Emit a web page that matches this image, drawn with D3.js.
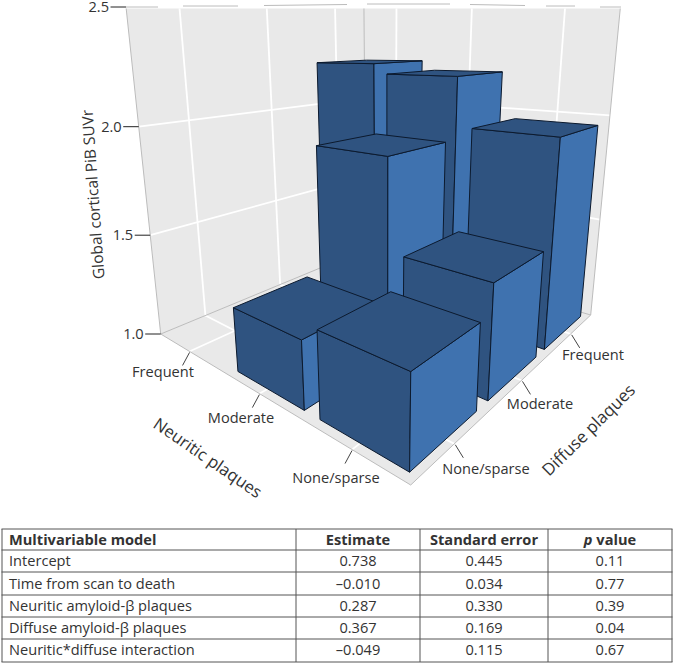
<!DOCTYPE html>
<html><head><meta charset="utf-8">
<script src="https://cdn.jsdelivr.net/npm/d3@7/dist/d3.min.js"></script>
<style>
html,body{margin:0;padding:0;background:#fff}
svg{display:block}
text{font-family:"Open Sans",sans-serif;fill:#333}
</style></head><body>
<svg id="c" width="673" height="664"></svg>
<script>
// ---- data ----
const neuriticLevels = ["None/sparse","Moderate","Frequent"];
const diffuseLevels  = ["None/sparse","Moderate","Frequent"];
const barNeuritic = ["Frequent","Moderate","Moderate","None/sparse","Moderate","None/sparse","None/sparse"];
const barDiffuse  = ["Frequent","Frequent","Moderate","Frequent","None/sparse","Moderate","None/sparse"];
const barSUVr     = [2.24,2.19,1.90,1.96,1.295,1.49,1.365];
const zTicks = [1.0,1.5,2.0,2.5];
const zTitle = "Global cortical PiB SUVr";
const xTitle = "Neuritic plaques";
const yTitle = "Diffuse plaques";
const tableHeader = ["Multivariable model","Estimate","Standard error","p value"];
const tableTerms = ["Intercept","Time from scan to death","Neuritic amyloid-β plaques","Diffuse amyloid-β plaques","Neuritic*diffuse interaction"];
const tableEstimate = ["0.738","–0.010","0.287","0.367","–0.049"];
const tableSE = ["0.445","0.034","0.330","0.169","0.115"];
const tableP = ["0.11","0.77","0.39","0.04","0.67"];

// ---- scales: data -> unit cube ----
const uBand = d3.scaleBand().domain(neuriticLevels).range([0,1]).paddingInner(0.17).paddingOuter(0.085);
const vBand = d3.scaleBand().domain(diffuseLevels).range([0,1]).paddingInner(0.17).paddingOuter(0.085);
const wScale = d3.scaleLinear().domain([1,2.5]).range([0,1]);

// ---- camera: projective map of the unit cube to the page ----
const cam = {ax:[410.7,-164.2,534.6,-79.1], ay:[485,27.3,19.1,-503], d:[1,0.5338,0.6003,-0.2055]};
function P(u,v,w){
  const k=(a)=>a[0]+a[1]*u+a[2]*v+a[3]*w;
  const s=k(cam.d);
  return [k(cam.ax)/s,k(cam.ay)/s];
}
const line=(pts)=>"M"+pts.map(p=>p.join(",")).join("L")+"Z";
const svg=d3.select("#c");
// the wall tops are cut off flat in the picture
svg.append("defs").append("clipPath").attr("id","wallClip").append("rect")
  .attr("x",0).attr("y",8.5).attr("width",673).attr("height",660);
const gWall=svg.append("g").attr("clip-path","url(#wallClip)"), gTop=svg.append("g"),
      gBars=svg.append("g").attr("transform","translate(1.5,1)"), gAxes=svg.append("g"), gTable=svg.append("g");

// walls and floor (drawn a little past the top of the axis, then clipped)
const wallFill="#e9e9e9", edge="#bcbcbc", wTop=1.12;
[[[0,0,0],[1,0,0],[1,1,0],[0,1,0]],
 [[1,0,0],[1,1,0],[1,1,wTop],[1,0,wTop]],
 [[0,1,0],[1,1,0],[1,1,wTop],[0,1,wTop]]].forEach(f=>{
  gWall.append("path").attr("d",line(f.map(c=>P(...c)))).attr("fill",wallFill);
});
const seg=(g,a,b,col,wd)=>{const p=P(...a),q=P(...b);
  g.append("line").attr("x1",p[0]).attr("y1",p[1]).attr("x2",q[0]).attr("y2",q[1]).attr("stroke",col).attr("stroke-width",wd);};
const uC=l=>uBand(l)+uBand.bandwidth()/2, vC=l=>vBand(l)+vBand.bandwidth()/2;
neuriticLevels.forEach(l=>{const u=uC(l);
  seg(gWall,[u,-0.012,0],[u,1,0],"#fff",1.8);
  seg(gWall,[u,1,0],[u,1,wTop],"#fff",1.8);
});
diffuseLevels.forEach(l=>{const v=vC(l);
  seg(gWall,[-0.012,v,0],[1,v,0],"#fff",1.8);
  seg(gWall,[1,v,0],[1,v,wTop],"#fff",1.8);
});
zTicks.slice(1,3).forEach(z=>{const w=wScale(z);
  seg(gWall,[1,0,w],[1,1,w],"#fff",1.8);
  seg(gWall,[0,1,w],[1,1,w],"#fff",1.8);
});
[[[0,0,0],[1,0,0]],[[0,0,0],[0,1,0]],[[1,0,0],[1,1,0]],[[0,1,0],[1,1,0]],
 [[1,0,0],[1,0,1]],[[0,1,0],[0,1,1]],[[1,1,0],[1,1,1.1]]].forEach(e=>seg(gWall,e[0],e[1],edge,1));
// broken remains of the top frame line, above the walls
[[126,158,7,7],[183,238,6,6],[264,347,5.5,4.5],[367,450,4,4],[470,525,4.5,5.5],[546,575,6,6],[600,621,7,7]].forEach(s=>{
  gTop.append("line").attr("x1",s[0]).attr("x2",s[1]).attr("y1",s[2]).attr("y2",s[3]).attr("stroke",edge).attr("stroke-width",1);
});

// bars, far to near
const bars=barSUVr.map((z,i)=>({u0:uBand(barNeuritic[i]),v0:vBand(barDiffuse[i]),w:wScale(z)}));
const bw=uBand.bandwidth();
bars.sort((a,b)=>(b.u0+b.v0)-(a.u0+a.v0));
const dark="#2f5380", light="#3f72af", ink="#0c1a2e";
gBars.selectAll("g").data(bars).join("g").each(function(b){
  const g=d3.select(this), u0=b.u0,u1=b.u0+bw,v0=b.v0,v1=b.v0+bw,w=b.w;
  const faces=[
    {f:[[u0,v0,0],[u1,v0,0],[u1,v0,w],[u0,v0,w]],c:dark},   // faces the neuritic axis
    {f:[[u0,v0,0],[u0,v1,0],[u0,v1,w],[u0,v0,w]],c:light},  // faces the diffuse axis
    {f:[[u0,v0,w],[u1,v0,w],[u1,v1,w],[u0,v1,w]],c:dark}    // top
  ];
  g.selectAll("path").data(faces).join("path")
    .attr("d",d=>line(d.f.map(c=>P(...c))))
    .attr("fill",d=>d.c).attr("stroke",ink).attr("stroke-width",1).attr("stroke-linejoin","round");
});

// z axis
zTicks.forEach(z=>{const p=P(1,0,wScale(z));
  gAxes.append("line").attr("x1",p[0]).attr("y1",p[1]).attr("x2",p[0]-15.5).attr("y2",p[1]).attr("stroke","#222").attr("stroke-width",1);
  gAxes.append("text").attr("x",p[0]-17).attr("y",p[1]+5).attr("text-anchor","end").attr("font-size",14.6).text(d3.format(".1f")(z));
});
gAxes.append("text").attr("transform","translate(98.5,194) rotate(-94)").attr("text-anchor","middle").attr("font-size",15.5).text(zTitle);

// floor ticks and labels
const tickCol="#444";
const xLab={"Frequent":[163,377],"Moderate":[241,423],"None/sparse":[336,483]};
const yLab={"Frequent":[593,360],"Moderate":[540,409],"None/sparse":[486,474]};
neuriticLevels.forEach(l=>{const p=P(uC(l),0,0);
  gAxes.append("line").attr("x1",p[0]).attr("y1",p[1]+1).attr("x2",p[0]-7).attr("y2",p[1]+14).attr("stroke",tickCol);
  gAxes.append("text").attr("x",xLab[l][0]).attr("y",xLab[l][1]).attr("text-anchor","middle").attr("font-size",14.6).text(l);
});
diffuseLevels.forEach(l=>{const p=P(0,vC(l),0);
  gAxes.append("line").attr("x1",p[0]+1).attr("y1",p[1]+1).attr("x2",p[0]+9).attr("y2",p[1]+14).attr("stroke",tickCol);
  gAxes.append("text").attr("x",yLab[l][0]).attr("y",yLab[l][1]).attr("text-anchor","middle").attr("font-size",14.6).text(l);
});
gAxes.append("text").attr("transform","translate(207,459) rotate(34.5)").attr("text-anchor","middle").attr("dominant-baseline","middle").attr("font-size",16.7).text(xTitle);
gAxes.append("text").attr("transform","translate(589.5,431) rotate(-44.5)").attr("text-anchor","middle").attr("dominant-baseline","middle").attr("font-size",16.9).text(yTitle);

// table
const colEdges=[2,296,420,548,672];
const rowEdges=[529,550,572,595,617,639,662];
const rows=[tableHeader].concat(tableTerms.map((t,i)=>[t,tableEstimate[i],tableSE[i],tableP[i]]));
const colX=d3.scaleOrdinal().domain([0,1,2,3,4]).range(colEdges);
const rowY=d3.scaleOrdinal().domain(d3.range(7)).range(rowEdges);
d3.range(7).forEach(i=>gTable.append("line").attr("x1",colEdges[0]-0.5).attr("x2",colEdges[4]+0.5).attr("y1",rowY(i)).attr("y2",rowY(i)).attr("stroke","#555"));
colEdges.forEach((x,i)=>gTable.append("line").attr("x1",x).attr("x2",x).attr("y1",rowEdges[0]).attr("y2",rowEdges[6]).attr("stroke","#555"));
rows.forEach((r,i)=>{
  const y=(rowY(i)+rowY(i+1))/2+5-(i===5?1:0);
  r.forEach((t,j)=>{
    const tx=gTable.append("text").attr("y",y).attr("font-size",14.6).attr("font-weight",i===0?700:400);
    if(j===0) tx.attr("x",colX(0)+7);
    else tx.attr("x",(colX(j)+colX(j+1))/2).attr("text-anchor","middle");
    if(i===0&&j===3){
      tx.append("tspan").attr("font-style","italic").text("p");
      tx.append("tspan").text(" value");
    } else tx.text(t);
  });
});
</script>
</body></html>
